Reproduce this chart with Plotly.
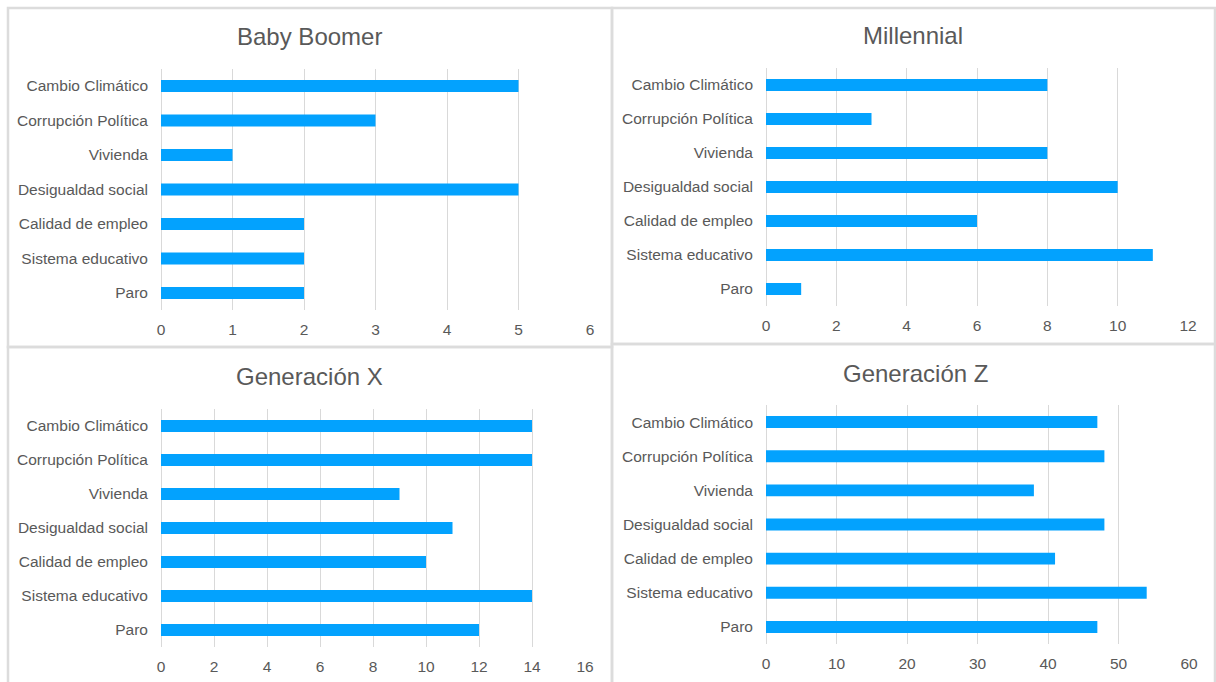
import plotly.graph_objects as go

W, H = 1216, 682

categories = ["Cambio Climático", "Corrupción Política", "Vivienda", "Desigualdad social",
              "Calidad de empleo", "Sistema educativo", "Paro"]

baby_boomer = [5, 3, 1, 5, 2, 2, 2]
millennial = [8, 3, 8, 10, 6, 11, 1]
generacion_x = [14, 14, 9, 11, 10, 14, 12]
generacion_z = [47, 48, 38, 48, 41, 54, 47]

titles = ["Baby Boomer", "Millennial", "Generación X", "Generación Z"]
series = [baby_boomer, millennial, generacion_x, generacion_z]
x_ranges = [[0, 6], [0, 12], [0, 16], [0, 60]]
x_dticks = [1, 2, 2, 10]

# pixel layout: (x0, x1, ytop, ybottom) of plot areas
plot_px = [
    (161, 590, 68.75, 310.25),
    (766, 1188, 68, 306),
    (161, 585, 409, 647),
    (766, 1189, 405, 644),
]
title_px = [(310, 37), (913, 36), (310, 377), (915, 373)]
panel_px = [(8, 612, 8, 347), (612, 1215, 8, 344), (8, 612, 347, 690), (612, 1215, 344, 690)]

BLUE = "#03A2FE"
TXT = "#595959"
GRID = "#D9D9D9"
FONT = "Liberation Sans"

fig = go.Figure()
for i, (vals, t) in enumerate(zip(series, titles)):
    n = "" if i == 0 else str(i + 1)
    fig.add_trace(go.Bar(x=vals, y=categories, orientation="h", marker=dict(color=BLUE, line=dict(width=0)),
                         xaxis="x" + n, yaxis="y" + n, showlegend=False, hoverinfo="x+y"))
    x0, x1, yt, yb = plot_px[i]
    fig.layout["xaxis" + n] = dict(
        domain=[x0 / W, x1 / W], range=x_ranges[i], dtick=x_dticks[i], tick0=0,
        anchor="y" + n, showgrid=True, gridcolor=GRID, gridwidth=1, zeroline=True,
        zerolinecolor=GRID, zerolinewidth=1, showline=False, ticks="", automargin=False,
        tickfont=dict(family=FONT, size=15.5, color=TXT), fixedrange=True, ticklabelstandoff=8)
    fig.layout["yaxis" + n] = dict(
        domain=[1 - yb / H, 1 - yt / H], anchor="x" + n, autorange="reversed",
        showgrid=False, showline=False, ticks="", ticklabelstandoff=12, automargin=False,
        tickfont=dict(family=FONT, size=15.5, color=TXT), fixedrange=True)
    tx, ty = title_px[i]
    fig.add_annotation(text=t, x=tx / W, y=1 - ty / H, xref="paper", yref="paper",
                       showarrow=False, xanchor="center", yanchor="middle",
                       font=dict(family=FONT, size=24, color=TXT))
    px0, px1, py0, py1 = panel_px[i]
    fig.add_shape(type="rect", xref="paper", yref="paper", x0=px0 / W, x1=px1 / W,
                  y0=1 - py1 / H, y1=1 - py0 / H, line=dict(color="#DCDCDC", width=2.5),
                  fillcolor="rgba(0,0,0,0)", layer="below")

fig.update_layout(template="none", autosize=True, margin=dict(l=0, r=0, t=0, b=0, pad=0),
                  paper_bgcolor="white", plot_bgcolor="white", bargap=0.65,
                  font=dict(family=FONT, color=TXT))

fig.write_html("out.html", config={"displayModeBar": False, "responsive": True},
               default_width="100vw", default_height="100vh",
               post_script=("document.documentElement.style.margin='0';"
                            "document.documentElement.style.overflow='hidden';"
                            "document.body.style.margin='0';"
                            "document.body.style.overflow='hidden';"
                            "Plotly.Plots.resize(document.getElementById('{plot_id}'));"))
